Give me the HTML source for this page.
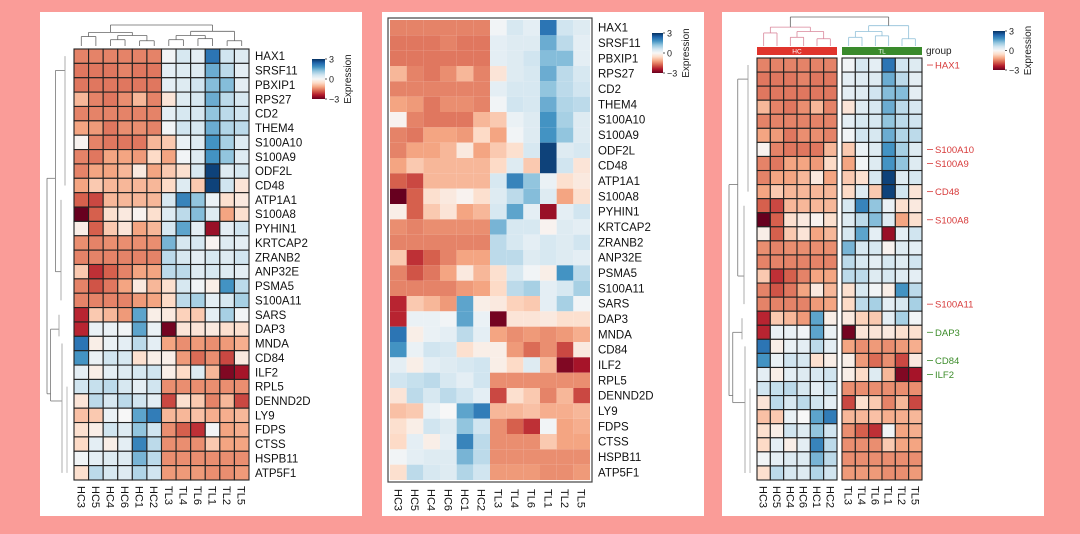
<!DOCTYPE html>
<html><head><meta charset="utf-8"><style>
html,body{margin:0;padding:0;background:#fa9c98;}
svg{display:block;font-family:"Liberation Sans","DejaVu Sans",sans-serif;}
</style></head><body>
<svg id="root" width="1080" height="534" viewBox="0 0 1080 534">
<rect x="0" y="0" width="1080" height="534" fill="#fa9c98"/>
<rect x="40" y="12" width="322" height="504" fill="#fff"/>
<rect x="382" y="12" width="322" height="504" fill="#fff"/>
<rect x="722" y="12" width="322" height="504" fill="#fff"/>
<defs>
<linearGradient id="cb" x1="0" y1="1" x2="0" y2="0">
<stop offset="0" stop-color="#67001f"/><stop offset="0.1" stop-color="#b2182b"/><stop offset="0.2" stop-color="#d6604d"/><stop offset="0.3" stop-color="#f4a582"/><stop offset="0.4" stop-color="#fddbc7"/><stop offset="0.5" stop-color="#f7f7f7"/><stop offset="0.6" stop-color="#d1e5f0"/><stop offset="0.7" stop-color="#92c5de"/><stop offset="0.8" stop-color="#4393c3"/><stop offset="0.9" stop-color="#2166ac"/><stop offset="1" stop-color="#053061"/>
</linearGradient>
</defs>
<g id="layer"></g>
</svg>
<script>
const genes = ["HAX1","SRSF11","PBXIP1","RPS27","CD2","THEM4","S100A10","S100A9","ODF2L","CD48","ATP1A1","S100A8","PYHIN1","KRTCAP2","ZRANB2","ANP32E","PSMA5","S100A11","SARS","DAP3","MNDA","CD84","ILF2","RPL5","DENND2D","LY9","FDPS","CTSS","HSPB11","ATP5F1"];
const samples = ["HC3","HC5","HC4","HC6","HC1","HC2","TL3","TL4","TL6","TL1","TL2","TL5"];
const colorTicks = [3, 0, -3];
const rowHAX1 = [-1.5,-1.5,-1.5,-1.5,-1.5,-1.5,0.1,0.5,0.3,2.2,0.6,0.4];
const rowSRSF11 = [-1.6,-1.6,-1.6,-1.5,-1.6,-1.6,0.3,0.4,0.4,1.5,0.8,0.3];
const rowPBXIP1 = [-1.6,-1.6,-1.6,-1.6,-1.6,-1.6,0.3,0.4,0.6,1.3,1.3,0.3];
const rowRPS27 = [-1.0,-1.5,-1.6,-1.4,-1.0,-1.5,-0.4,0.4,0.5,1.5,0.8,0.5];
const rowCD2 = [-1.5,-1.5,-1.5,-1.5,-1.5,-1.5,0.3,0.5,0.5,1.2,0.8,0.6];
const rowTHEM4 = [-1.2,-1.3,-1.6,-1.4,-1.4,-1.5,0.1,0.6,0.5,1.5,0.9,0.8];
const rowS100A10 = [-0.1,-1.5,-1.6,-1.6,-1.6,-1.0,-0.8,0.2,0.4,1.8,1.0,0.4];
const rowS100A9 = [-1.5,-1.6,-1.2,-1.2,-1.3,-0.6,-1.2,0.1,0.4,1.8,1.2,0.4];
const rowODF2L = [-1.5,-1.2,-1.2,-1.0,-0.3,-1.2,-0.8,-0.5,0.5,2.8,0.4,0.5];
const rowCD48 = [-1.2,-0.8,-1.0,-1.0,-1.0,-1.0,-0.6,0.4,-0.8,2.8,0.6,-0.4];
const rowATP1A1 = [-1.8,-2.0,-1.0,-1.0,-1.0,-1.0,0.5,2.0,1.2,0.2,-0.5,-0.3];
const rowS100A8 = [-3.0,-1.8,-0.5,-0.3,-0.1,-0.5,0.4,0.8,1.3,0.4,-1.2,-0.5];
const rowPYHIN1 = [-0.2,-1.8,-0.8,-0.4,-1.2,-1.0,0.5,1.6,0.3,-2.6,0.3,0.6];
const rowKRTCAP2 = [-1.4,-1.5,-1.4,-1.4,-1.4,-1.4,1.4,0.5,0.5,-0.1,0.4,0.3];
const rowZRANB2 = [-1.5,-1.5,-1.5,-1.5,-1.5,-1.5,0.8,0.5,0.3,0.5,0.4,0.6];
const rowANP32E = [-0.8,-2.2,-1.8,-1.5,-1.2,-1.2,0.8,0.8,0.4,0.5,0.4,0.3];
const rowPSMA5 = [-1.5,-1.9,-1.6,-1.2,-0.3,-1.0,-0.5,0.5,0.1,-0.2,1.8,0.8];
const rowS100A11 = [-1.5,-1.5,-1.5,-1.5,-1.3,-1.2,-0.6,0.8,1.0,0.3,0.5,1.0];
const rowSARS = [-2.3,-0.8,-1.0,-1.3,1.6,-0.2,-0.3,-0.7,-0.8,0.3,1.0,0.1];
const rowDAP3 = [-2.3,0.2,0.2,0.1,1.6,0.2,-2.9,-0.4,-0.4,-0.3,-0.5,-0.5];
const rowMNDA = [2.2,-0.2,0.2,0.3,0.8,0.3,-1.2,-1.4,-1.3,-1.4,-1.3,-1.1];
const rowCD84 = [1.8,0.2,0.6,0.5,-0.5,-0.2,-0.2,-1.3,-1.7,-1.4,-2.0,-0.3];
const rowILF2 = [0.3,-0.2,0.3,0.4,0.5,0.6,-0.2,-0.6,0.4,-1.0,-2.8,-2.5];
const rowRPL5 = [0.6,0.7,0.8,0.5,0.3,0.6,-1.4,-1.4,-1.4,-1.4,-1.4,-1.4];
const rowDENND2D = [-0.4,0.8,0.5,0.8,0.6,0.3,-2.0,-0.5,-0.8,-1.5,-1.0,-2.0];
const rowLY9 = [-0.9,-0.8,0.2,0.0,1.6,2.1,-1.0,-1.0,-0.9,-1.1,-1.1,-1.0];
const rowFDPS = [-0.5,-0.2,0.6,0.4,1.2,0.6,-1.4,-1.8,-2.2,0.1,-1.2,-1.1];
const rowCTSS = [-0.6,0.3,-0.2,0.3,2.0,0.8,-1.4,-1.4,-1.4,-0.8,-1.2,-1.2];
const rowHSPB11 = [0.1,0.3,0.4,0.4,1.4,0.8,-1.4,-1.4,-1.4,-1.4,-1.4,-1.4];
const rowATP5F1 = [-0.5,0.8,0.5,0.4,0.9,0.6,-1.3,-1.3,-1.3,-1.4,-1.4,-1.3];
const values = [rowHAX1,rowSRSF11,rowPBXIP1,rowRPS27,rowCD2,rowTHEM4,rowS100A10,rowS100A9,rowODF2L,rowCD48,rowATP1A1,rowS100A8,rowPYHIN1,rowKRTCAP2,rowZRANB2,rowANP32E,rowPSMA5,rowS100A11,rowSARS,rowDAP3,rowMNDA,rowCD84,rowILF2,rowRPL5,rowDENND2D,rowLY9,rowFDPS,rowCTSS,rowHSPB11,rowATP5F1];
const redGenes = ["HAX1","S100A10","S100A9","CD48","S100A8","S100A11"];
const greenGenes = ["DAP3","CD84","ILF2"];

const NS="http://www.w3.org/2000/svg";
const layer=document.getElementById('layer');
const stops=[[0,[103,0,31]],[0.1,[178,24,43]],[0.2,[214,96,77]],[0.3,[244,165,130]],[0.4,[253,219,199]],[0.5,[247,247,247]],[0.6,[209,229,240]],[0.7,[146,197,222]],[0.8,[67,147,195]],[0.9,[33,102,172]],[1,[5,48,97]]];
function color(v){
  let t=Math.max(0,Math.min(1,(v+3)/6));
  for(let i=1;i<stops.length;i++){
    if(t<=stops[i][0]){
      const a=stops[i-1],b=stops[i],f=(t-a[0])/(b[0]-a[0]);
      const c=a[1].map((x,k)=>Math.round(x+(b[1][k]-x)*f));
      return `rgb(${c[0]},${c[1]},${c[2]})`;
    }
  }
  return 'rgb(5,48,97)';
}
function el(tag,attrs,parent){const e=document.createElementNS(NS,tag);for(const k in attrs)e.setAttribute(k,attrs[k]);(parent||layer).appendChild(e);return e;}
function line(x1,y1,x2,y2,stroke,parent){return el('line',{x1,y1,x2,y2,stroke:stroke||'#555','stroke-width':0.8},parent);}

function colorbar(x,y,w,h,panel){
  const g=el('g',{});
  
  
  el('rect',{x,y,width:w,height:h,fill:'url(#cb)'},g);
  colorTicks.forEach(t=>{
    const ty=y+h*(3-t)/6;
    line(x+w,ty,x+w+2,ty,'#333',g);
    const tx=el('text',{x:x+w+4,y:ty+3.5,'font-size':9,fill:'#222'},g);
    tx.textContent=t<0?'\u22123':String(t);
  });
  const lab=el('text',{x:0,y:0,'font-size':10,fill:'#222',transform:`translate(${x+w+26},${y+h/2}) rotate(-90)`,'text-anchor':'middle'},g);
  lab.textContent='Expression';
  
  
}

function heatmap(opt){
  const g=el('g',{});
  
  
  const nR=genes.length,nC=samples.length;
  const cw=opt.w/(nC)+0, rh=opt.h/nR;
  const colX=c=>opt.x+c*cw+(opt.gap && c>=6?opt.gap:0);
  const cwAdj=opt.gap?(opt.w-opt.gap)/nC:cw;
  const cx=c=>opt.x+c*cwAdj+(opt.gap && c>=6?opt.gap:0);
  const ry=r=>opt.y+r*rh;
  values.forEach((row,r)=>{
    row.forEach((v,c)=>{
      const rc=el('rect',{x:cx(c),y:ry(r),width:cwAdj,height:rh,fill:color(v),stroke:opt.grid?'#222':'none','stroke-width':opt.grid?1.1:0},g);
      
      
    });
  });
  if(opt.frame){el('rect',{x:opt.x-2,y:opt.y-2,width:opt.w+4,height:opt.h+4,fill:'none',stroke:'#444','stroke-width':1.2},g);}
  genes.forEach((gn,r)=>{
    let fill='#111',lx=opt.labelX,txt=gn;
    if(opt.annot){
      if(redGenes.includes(gn))fill='#d73a3a';
      else if(greenGenes.includes(gn))fill='#3c8c2a';
      else return;
      line(lx-8,ry(r)+rh/2,lx-2,ry(r)+rh/2,fill,g);
    }
    const t=el('text',{x:lx,y:ry(r)+rh/2+(opt.annot?3.5:4),'font-size':opt.annot?9.5:11.5,fill},g);
    t.textContent=txt;
    
    
  });
  samples.forEach((s,c)=>{
    const x0=cx(c)+cwAdj/2;
    const t=el('text',{x:0,y:0,'font-size':11,fill:'#111',transform:`translate(${x0-4},${opt.y+opt.h+opt.colLabOff}) rotate(90)`},g);
    t.textContent=s;
    
    
  });
  // dendrograms
  if(opt.dendro){
    const dc=opt.dColor||['#666','#666'];
    const top=opt.dTop, bot=opt.y-(opt.bar?12:3);
    const mid=(top+bot)/2;
    const hcC=(cx(0)+cx(5)+cwAdj)/2, tlC=(cx(6)+cx(11)+cwAdj)/2;
    const dg=el('g',{});
    
    
    const pts=[[0,1,0.55],[2,3,0.7],[4,5,0.75],[6,7,0.7],[8,9,0.65],[10,11,0.75]];
    const c=i=>cx(i)+cwAdj/2;
    const hAt=f=>top+(bot-top)*f;
    pts.forEach(([a,b,f],i)=>{const col=a<6?dc[0]:dc[1];line(c(a),bot,c(a),hAt(f),col,dg);line(c(b),bot,c(b),hAt(f),col,dg);line(c(a),hAt(f),c(b),hAt(f),col,dg);});
    const p1=(c(0)+c(1))/2,p2=(c(2)+c(3))/2,p3=(c(4)+c(5))/2;
    line(p2,hAt(0.7),p2,hAt(0.5),dc[0],dg);line(p3,hAt(0.75),p3,hAt(0.5),dc[0],dg);line(p2,hAt(0.5),p3,hAt(0.5),dc[0],dg);
    const p23=(p2+p3)/2;line(p1,hAt(0.55),p1,hAt(0.35),dc[0],dg);line(p23,hAt(0.5),p23,hAt(0.35),dc[0],dg);line(p1,hAt(0.35),p23,hAt(0.35),dc[0],dg);
    const q1=(c(6)+c(7))/2,q2=(c(8)+c(9))/2,q3=(c(10)+c(11))/2;
    line(q1,hAt(0.7),q1,hAt(0.5),dc[1],dg);line(q2,hAt(0.65),q2,hAt(0.5),dc[1],dg);line(q1,hAt(0.5),q2,hAt(0.5),dc[1],dg);
    const q12=(q1+q2)/2;line(q12,hAt(0.5),q12,hAt(0.3),dc[1],dg);line(q3,hAt(0.75),q3,hAt(0.3),dc[1],dg);line(q12,hAt(0.3),q3,hAt(0.3),dc[1],dg);
    const hx=(p1+p23)/2,tx=(q12+q3)/2;
    line(hx,hAt(0.35),hx,top,'#666',dg);line(tx,hAt(0.3),tx,top,'#666',dg);line(hx,top,tx,top,'#666',dg);
    // row dendrogram
    const rg=el('g',{});
    
    
    const L=opt.rdLeft,R=opt.x-3;
    const rm=r=>ry(r)+rh/2;
    const split=18;
    const aY=(rm(0)+rm(split-1))/2,bY=(rm(split)+rm(nR-1))/2;
    line(L,aY,L,bY,'#777',rg);
    line(L,aY,L+(R-L)*0.35,aY,'#777',rg);line(L,bY,L+(R-L)*0.15,bY,'#777',rg);
    const x1=L+(R-L)*0.35,x2=L+(R-L)*0.15;
    line(x1,rm(1),x1,rm(15),'#777',rg);line(x1,rm(1),R-6,rm(1),'#777',rg);line(x1,rm(15),R-10,rm(15),'#777',rg);
    line(R-6,rm(0),R-6,rm(9),'#999',rg);line(R-10,rm(10),R-10,rm(17),'#999',rg);
    line(x2,rm(19),x2,rm(24),'#777',rg);line(x2,rm(19),R-12,rm(19),'#777',rg);line(x2,rm(24),R-9,rm(24),'#777',rg);
    line(R-12,rm(18),R-12,rm(19.5),'#999',rg);line(R-9,rm(20),R-9,rm(29),'#999',rg);
    line(R-4,rm(23),R-4,rm(29),'#aaa',rg);
  }
  if(opt.bar){
    const by=opt.y-11;
    const b1=el('rect',{x:cx(0),y:by,width:cwAdj*6,height:8,fill:'#e0342c'},g);
    
    
    const b2=el('rect',{x:cx(6),y:by,width:cwAdj*6,height:8,fill:'#3a8a2c'},g);
    
    
    const t1=el('text',{x:cx(0)+cwAdj*3,y:by+6.5,'font-size':6.5,fill:'#fff','text-anchor':'middle'},g);t1.textContent='HC';
    const t2=el('text',{x:cx(6)+cwAdj*3,y:by+6.5,'font-size':6.5,fill:'#fff','text-anchor':'middle'},g);t2.textContent='TL';
    const gl=el('text',{x:cx(11)+cwAdj+4,y:by+7,'font-size':10,fill:'#222'},g);gl.textContent='group';
    
    
  }
}

heatmap({panel:'1',x:74,y:49,w:175,h:431,grid:true,labelX:255,colLabOff:6,dendro:true,dTop:25,rdLeft:47});
colorbar(312,59,13,40,'1');
heatmap({panel:'2',x:390,y:20,w:200,h:460,grid:false,frame:true,labelX:598,colLabOff:9});
colorbar(652,33,11,40,'2');
heatmap({panel:'3',x:757,y:58,w:165,h:422,gap:5,grid:true,labelX:935,colLabOff:6,dendro:true,dTop:17,rdLeft:729,bar:true,annot:true,dColor:['#d9869a','#8fbfd8']});
colorbar(993,31,12,39,'3');
</script>
</body></html>
